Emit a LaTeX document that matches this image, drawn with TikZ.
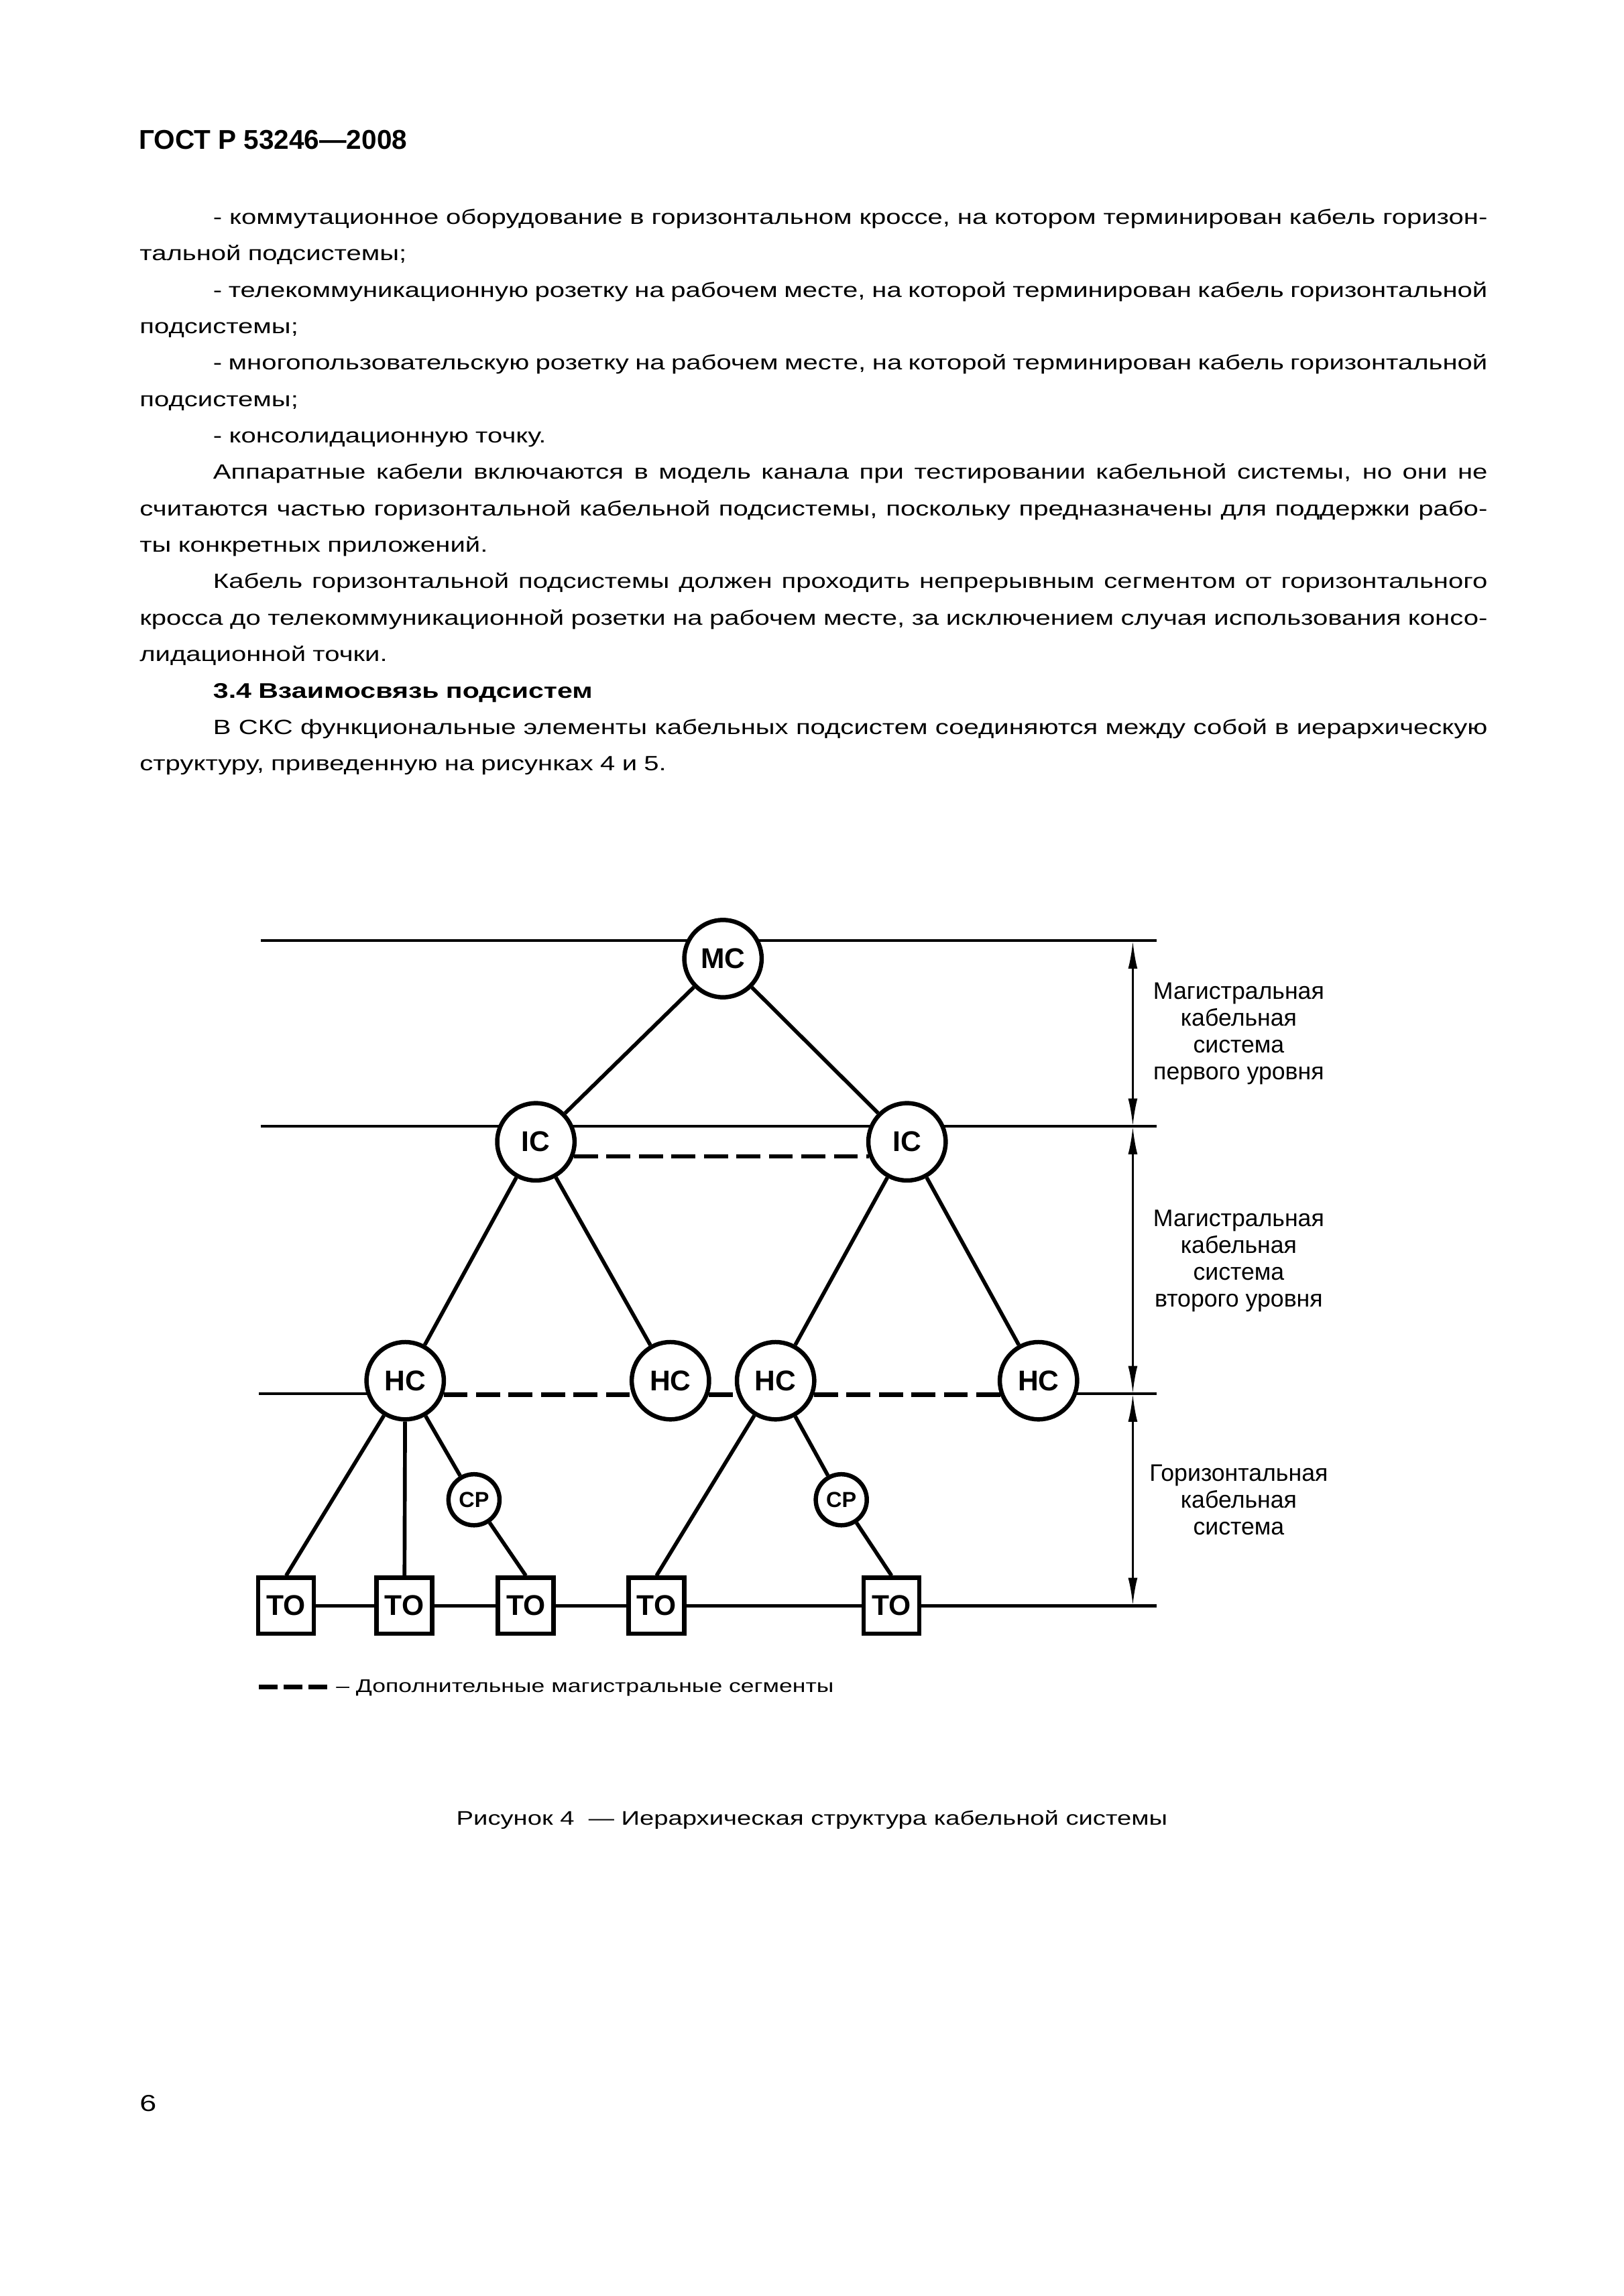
\documentclass[tikz,border=0pt]{standalone}
\usepackage{fontspec}
\setmainfont{Liberation Sans}
\newfontfamily\gostfont[FakeStretch=1.30]{Liberation Sans}
\usetikzlibrary{arrows.meta,backgrounds,positioning}
\newcommand{\jline}[1]{\makebox[\hsize][s]{\spaceskip=\fontdimen2\font plus 3\fontdimen2\font minus 0.3\fontdimen2\font\relax #1}}
\newcommand{\ind}{\hspace*{9.5mm}}

\begin{document}
\begin{tikzpicture}[x=1mm, y=1mm,
  hub/.style={circle, draw, line width=1.6pt, fill=white, minimum size=10mm, inner sep=0pt,
              font=\bfseries\fontsize{10.5}{12}\selectfont},
  cpt/.style={hub, minimum size=6.6mm, font=\bfseries\fontsize{8}{9}\selectfont},
  outlet/.style={rectangle, draw, line width=1.6pt, fill=white, minimum size=7.2mm, inner sep=0pt,
                 font=\bfseries\fontsize{10.5}{12}\selectfont},
  link/.style={line width=1.4pt},
  extra/.style={line width=1.6pt, dash pattern=on 3.1mm off 1.1mm},
  level/.style={line width=1pt},
  span/.style={{Latex[length=3.6mm,width=1.2mm]}-{Latex[length=3.6mm,width=1.2mm]}, line width=0.8pt},
  sidelbl/.style={align=center, inner sep=0pt, font=\fontsize{8.8}{9.85}\selectfont},
  txt/.style={inner sep=0pt, anchor=base west},
]
  \useasboundingbox (0,0) rectangle (210,-297);

  % Page text
  \node[txt, font=\bfseries\fontsize{10}{12}\selectfont] (header) at (17.9,-19.3) {ГОСТ Р 53246—2008};
  \node[txt, text width=174.3mm, align=left, font=\gostfont\fontsize{7.6}{13.41}\selectfont] (body) at (18,-29) {%
    \jline{\ind- коммутационное оборудование в горизонтальном кроссе, на котором терминирован кабель горизон-}\\
    тальной подсистемы;\\
    \jline{\ind- телекоммуникационную розетку на рабочем месте, на которой терминирован кабель горизонтальной}\\
    подсистемы;\\
    \jline{\ind- многопользовательскую розетку на рабочем месте, на которой терминирован кабель горизонтальной}\\
    подсистемы;\\
    \ind- консолидационную точку.\\
    \jline{\ind Аппаратные кабели включаются в модель канала при тестировании кабельной системы, но они не}\\
    \jline{считаются частью горизонтальной кабельной подсистемы, поскольку предназначены для поддержки рабо-}\\
    ты конкретных приложений.\\
    \jline{\ind Кабель горизонтальной подсистемы должен проходить непрерывным сегментом от горизонтального}\\
    \jline{кросса до телекоммуникационной розетки на рабочем месте, за исключением случая использования консо-}\\
    лидационной точки.\\
    \ind{\bfseries\fontsize{7.8}{13.41}\selectfont 3.4 Взаимосвязь подсистем}\\
    \jline{\ind В СКС функциональные элементы кабельных подсистем соединяются между собой в иерархическую}\\
    структуру, приведенную на рисунках 4 и 5.};

  % Cross-connects
  \node[hub] (MC) at (93.5,-124.0) {MC};
  \node[hub] (IC1) at (69.3,-147.7) {IC};
  \node[hub] (IC2) at (117.3,-147.7) {IC};
  \node[hub] (HC1) at (52.4,-178.6) {HC};
  \node[hub] (HC2) at (86.7,-178.6) {HC};
  \node[hub] (HC3) at (100.3,-178.6) {HC};
  \node[hub] (HC4) at (134.3,-178.6) {HC};
  \node[cpt] (CP1) at (61.3,-194.0) {CP};
  \node[cpt] (CP2) at (108.8,-194.0) {CP};
  \node[outlet] (TO1) at (37.0,-207.7) {TO};
  \node[outlet] (TO2) at (52.3,-207.7) {TO};
  \node[outlet] (TO3) at (68.0,-207.7) {TO};
  \node[outlet] (TO4) at (84.9,-207.7) {TO};
  \node[outlet] (TO5) at (115.3,-207.7) {TO};

  % Level lines
  \coordinate (L1w) at (33.7,-121.7); \coordinate (L1e) at (149.6,-121.7);
  \coordinate (L2w) at (33.7,-145.7); \coordinate (L2e) at (149.6,-145.7);
  \coordinate (L3w) at (33.5,-180.3); \coordinate (L3e) at (149.6,-180.3);
  \coordinate (L4e) at (149.6,-207.7);
  \coordinate (A1) at (146.5,-121.7);
  \coordinate (A2) at (146.5,-145.7);
  \coordinate (A3) at (146.5,-180.3);
  \coordinate (A4) at (146.5,-207.7);

  \begin{scope}[on background layer]
    \fill[white] (0,0) rectangle (210,-297);
    \draw[level] (L1w) -- (L1e);
    \draw[level] (L2w) -- (L2e);
    \draw[level] (L3w) -- (L3w -| HC1);
    \draw[level] (L3e -| HC4) -- (L3e);
  \end{scope}

  \draw[link] (MC) -- (IC1);
  \draw[link] (MC) -- (IC2);
  \draw[link] (IC1) -- (HC1);
  \draw[link] (IC1) -- (HC2);
  \draw[link] (IC2) -- (HC3);
  \draw[link] (IC2) -- (HC4);
  \draw[link] (HC1) -- (TO1.north);
  \draw[link] (HC1) -- (TO2);
  \draw[link] (HC1) -- (CP1) -- (TO3.north);
  \draw[link] (HC3) -- (TO4.north);
  \draw[link] (HC3) -- (CP2) -- (TO5.north);
  \draw[level, line width=1.2pt] (TO1) -- (TO2) -- (TO3) -- (TO4) -- (TO5) -- (L4e);

  % Additional backbone segments
  \draw[extra] (IC1.-21) -- (IC2.-159);
  \draw[extra] (HC1.-20) -- (HC2.-160);
  \draw[extra] (HC2.-20) -- (HC3.-160);
  \draw[extra] (HC3.-20) -- (HC4.-160);

  % Subsystem spans
  \draw[span] (A1) -- (A2);
  \draw[span] (A2) -- (A3);
  \draw[span] (A3) -- (A4);
  \node[sidelbl] (lvl1) at (160.2,-133.7) {Магистральная\\кабельная\\система\\первого уровня};
  \node[sidelbl] (lvl2) at (160.2,-163.1) {Магистральная\\кабельная\\система\\второго уровня};
  \node[sidelbl] (lvl3) at (160.2,-194.0) {Горизонтальная\\кабельная\\система};

  % Legend and caption
  \coordinate (lgA) at (33.5,-218.2);
  \coordinate (lgB) at (42.3,-218.2);
  \draw[extra, dash pattern=on 2.4mm off 0.8mm] (lgA) -- (lgB);
  \node[txt, font=\gostfont\fontsize{6.75}{8}\selectfont] (legend) at (43.4,-218.9) {– Дополнительные магистральные сегменты};
  \node[inner sep=0pt, anchor=base, font=\gostfont\fontsize{7.25}{9}\selectfont] (caption) at (105,-236.1)
    {Рисунок 4~~— Иерархическая структура кабельной системы};
  \node[txt, font=\gostfont\fontsize{8.5}{10}\selectfont] (pagenum) at (18,-273.1) {6};
\end{tikzpicture}
\end{document}
